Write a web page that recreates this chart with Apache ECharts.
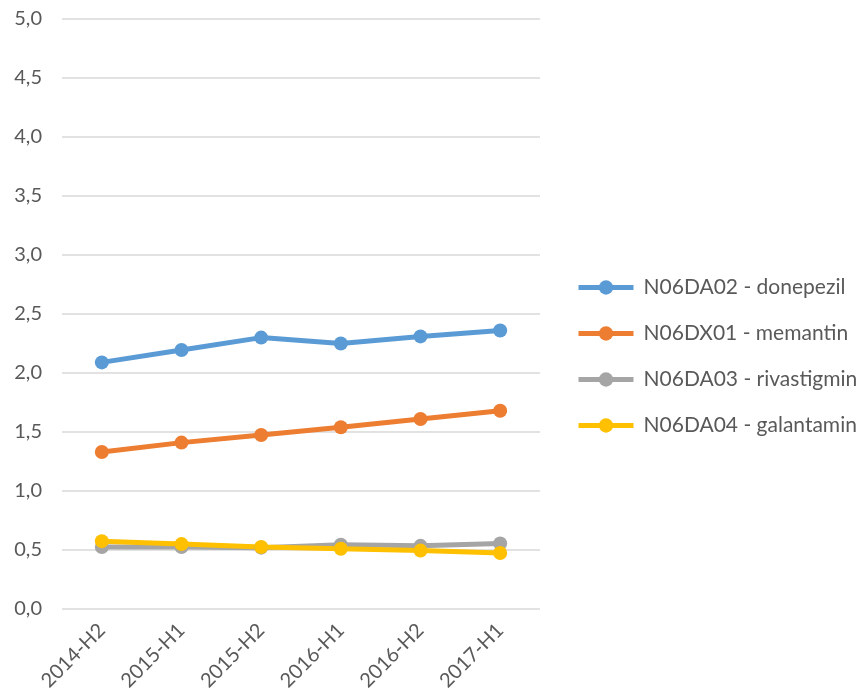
<!DOCTYPE html>
<html>
<head>
<meta charset="utf-8">
<script src="https://cdn.jsdelivr.net/npm/echarts@6/dist/echarts.min.js"></script>
<style>
  html, body { margin: 0; padding: 0; background: #fff; }
  #main { width: 866px; height: 700px; }
</style>
</head>
<body>
<div id="main"></div>
<script>
// data
var periods = ['2014-H2', '2015-H1', '2015-H2', '2016-H1', '2016-H2', '2017-H1'];
var donepezil = [2.09, 2.195, 2.30, 2.25, 2.31, 2.36];
var memantin = [1.33, 1.41, 1.475, 1.54, 1.61, 1.68];
var rivastigmin = [0.525, 0.525, 0.52, 0.545, 0.535, 0.555];
var galantamin = [0.575, 0.55, 0.525, 0.51, 0.495, 0.475];

var names = ['N06DA02 - donepezil', 'N06DX01 - memantin', 'N06DA03 - rivastigmin', 'N06DA04 - galantamin'];
var colors = ['#5B9BD5', '#ED7D31', '#A5A5A5', '#FFC000'];
var values = [donepezil, memantin, rivastigmin, galantamin];

var font = 'Lato';
var myChart = echarts.init(document.getElementById('main'));

var series = names.map(function (n, i) {
  return {
    name: n,
    type: 'line',
    data: values[i],
    symbol: 'circle',
    symbolSize: 14,
    lineStyle: { width: 5, color: colors[i] },
    itemStyle: { color: colors[i] }
  };
});

var option = {
  animation: false,
  color: colors,
  grid: { left: 62, right: 326, top: 19, bottom: 91 },
  legend: {
    orient: 'vertical',
    left: 576,
    top: 277,
    padding: 0,
    itemWidth: 55,
    itemHeight: 18,
    itemGap: 25,
    lineStyle: { width: 5 },
    textStyle: { color: '#595959', fontSize: 21, fontFamily: font, padding: [0, 0, 0, 5] },
    data: names
  },
  xAxis: {
    type: 'category',
    data: periods,
    boundaryGap: true,
    axisLine: { show: false },
    axisTick: { show: false },
    axisLabel: { color: '#595959', fontSize: 20, fontFamily: font, rotate: 45, margin: 18, interval: 0 }
  },
  yAxis: {
    type: 'value',
    min: 0,
    max: 5,
    interval: 0.5,
    axisLine: { show: false },
    axisTick: { show: false },
    splitLine: { lineStyle: { color: '#D9D9D9', width: 1.5 } },
    axisLabel: {
      color: '#595959', fontSize: 20, fontFamily: font, margin: 20,
      formatter: function (v) { return v.toFixed(1).replace('.', ','); }
    }
  },
  series: series
};

myChart.setOption(option);
window.addEventListener('resize', function () { myChart.resize(); });
</script>
</body>
</html>
